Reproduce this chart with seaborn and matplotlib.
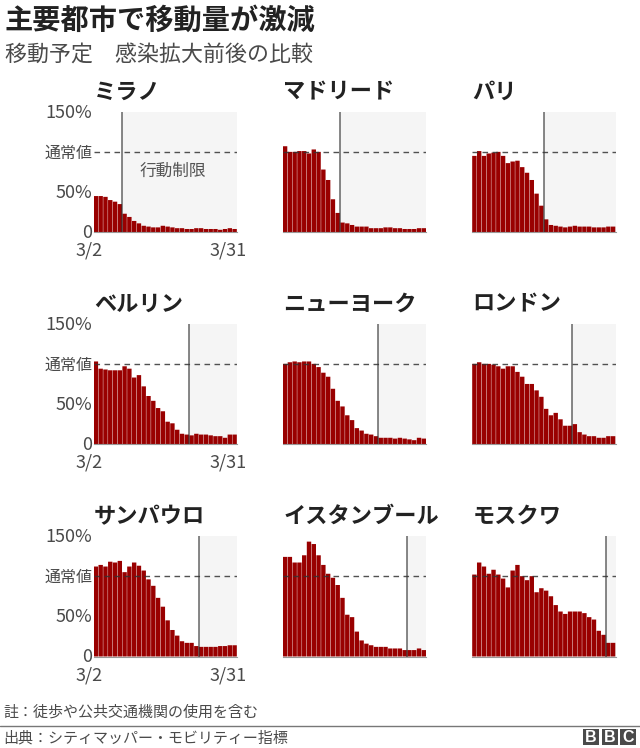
import matplotlib
matplotlib.use("Agg")
import matplotlib.pyplot as plt
import matplotlib.transforms as mtrans
from matplotlib.patches import Rectangle
from matplotlib.lines import Line2D
import seaborn as sns

sns.set_theme(style="white")
plt.rcParams["font.family"] = ["Noto Sans CJK JP", "DejaVu Sans"]

# Data (percent of normal, 3/2 to 3/31)
days = [f"3/{d}" for d in range(2, 32)]

milan = [45, 45, 44, 40, 38, 35, 23, 19, 14, 11, 8, 7, 6, 6, 8, 7, 6, 5, 5, 4, 4, 5, 5, 4, 4, 4, 3, 4, 5, 4]
madrid = [107, 100, 100, 101, 101, 98, 103, 100, 78, 65, 41, 24, 12, 11, 9, 7, 7, 7, 5, 5, 5, 6, 6, 5, 5, 4, 4, 4, 5, 5]
paris = [95, 101, 95, 98, 99, 100, 95, 86, 88, 89, 81, 74, 65, 48, 33, 16, 9, 8, 7, 6, 7, 8, 7, 7, 7, 6, 6, 6, 7, 7]
berlin = [103, 94, 93, 92, 92, 92, 97, 94, 83, 86, 72, 60, 54, 45, 41, 28, 26, 18, 13, 12, 11, 13, 12, 12, 11, 10, 10, 8, 12, 12]
new_york = [100, 102, 103, 102, 103, 103, 100, 96, 89, 84, 69, 54, 47, 36, 30, 20, 17, 13, 12, 10, 8, 8, 8, 7, 8, 7, 6, 5, 8, 7]
london = [100, 102, 100, 100, 99, 97, 94, 97, 97, 90, 84, 75, 75, 67, 59, 44, 36, 39, 31, 23, 23, 25, 15, 12, 10, 10, 8, 8, 10, 10]
sao_paulo = [112, 114, 112, 118, 117, 119, 105, 112, 117, 113, 107, 96, 88, 73, 62, 45, 33, 26, 19, 17, 17, 13, 12, 12, 12, 12, 13, 13, 14, 14]
istanbul = [124, 124, 117, 117, 126, 143, 140, 126, 114, 103, 98, 89, 73, 52, 49, 31, 20, 16, 14, 12, 12, 12, 10, 10, 10, 8, 8, 8, 10, 8]
moscow = [102, 117, 112, 103, 108, 102, 97, 86, 107, 114, 100, 95, 100, 80, 85, 82, 75, 64, 56, 53, 56, 56, 56, 54, 49, 46, 32, 27, 17, 17]

cities = ["ミラノ", "マドリード", "パリ", "ベルリン", "ニューヨーク", "ロンドン", "サンパウロ", "イスタンブール", "モスクワ"]
series = [milan, madrid, paris, berlin, new_york, london, sao_paulo, istanbul, moscow]
# number of days before the restrictions start
days_before = [6, 12, 15, 20, 20, 21, 22, 26, 28]

y_ticks = [0, 50, 100, 150]
y_labels = ["0", "50%", "通常値", "150%"]

W, H = 640, 748
col_left = [93.5, 282.7, 472]
row_top = [111.7, 323.7, 536]
panel_w, panel_h = 143.5, 120.5

RED = "#990000"
TEXT = "#4a4a4a"

fig = plt.figure(figsize=(W / 100, H / 100), dpi=100, facecolor="white")


def fig_text(x, y, s, **kw):
    kw.setdefault("va", "center")
    kw.setdefault("ha", "left")
    fig.text(x / W, 1 - y / H, s, **kw)


for i, (city, values, n) in enumerate(zip(cities, series, days_before)):
    row, col = divmod(i, 3)
    left, top = col_left[col], row_top[row]
    ax = fig.add_axes([left / W, 1 - (top + panel_h) / H, panel_w / W, panel_h / H])

    sns.barplot(x=days, y=values, color=RED, saturation=1, width=0.92, linewidth=0, ax=ax, zorder=2)
    # no pixel snapping, so the gaps stay thin and even
    for bar in ax.patches:
        bar.set_snap(False)

    ax.set_xlim(-0.5, 29.5)
    ax.set_ylim(0, 150)
    ax.axvspan(n - 0.5, 29.5, color="#f5f5f5", lw=0, zorder=1)
    ax.axvline(n - 0.5, color="#333333", lw=1.1, alpha=0.75, zorder=4)
    ax.axhline(100, color="#333333", lw=1, dashes=(4, 3.2), alpha=0.85, zorder=5)

    ax.set_xlabel("")
    ax.set_ylabel("")
    ax.grid(False)
    sns.despine(ax=ax, left=True, top=True, right=True)
    ax.spines["bottom"].set_color("#999999")
    ax.spines["bottom"].set_linewidth(0.8)
    ax.tick_params(length=0)

    if col == 0:
        ax.set_yticks(y_ticks, y_labels, color=TEXT, fontsize=13)
        ax.tick_params(axis="y", pad=1)
        for label in ax.get_yticklabels():
            label.set_fontsize(11.5 if label.get_text() == "通常値" else 13)
            label.set_transform(label.get_transform()
                                + mtrans.ScaledTranslation(0, 1 / 100, fig.dpi_scale_trans))
        ax.set_xticks([0, 29], [days[0], days[-1]], color=TEXT, fontsize=13)
        ax.tick_params(axis="x", pad=7)
        shift = mtrans.ScaledTranslation(-7 / 100, 0, fig.dpi_scale_trans)
        for label in ax.get_xticklabels():
            label.set_transform(label.get_transform() + shift)
    else:
        ax.set_yticks([])
        ax.set_xticks([])

    fig_text(left + 0.5, top - 19.5, city, fontsize=16, fontweight="bold", color="#222222")

    if i == 0:
        ax.text(16.1, 76, "行動制限", fontsize=12, color="#555555", ha="center", va="center", zorder=6)

# Header
fig_text(5, 21, "主要都市で移動量が激減", fontsize=20.3, fontweight="bold", color="#222222")
fig_text(5, 55, "移動予定　感染拡大前後の比較", fontsize=15.8, color=TEXT)

# Footer
fig_text(3, 712, "註：徒歩や公共交通機関の使用を含む", fontsize=10.8, color=TEXT)
fig.add_artist(Line2D([0, 1], [1 - 726 / H, 1 - 726 / H], color="#777777", lw=1))
fig_text(3, 738.5, "出典：シティマッパー・モビリティー指標", fontsize=10.8, color=TEXT)

for x0, letter in zip([583, 601.5, 620], "BBC"):
    fig.add_artist(Rectangle((x0 / W, 1 - 745 / H), 16 / W, 16 / H, transform=fig.transFigure,
                             facecolor="#4a4a4a", edgecolor="none"))
    fig.text((x0 + 8) / W, 1 - 737 / H, letter, color="white", fontsize=11.5, fontweight="bold",
             ha="center", va="center", family=["Liberation Sans", "DejaVu Sans"])

fig.savefig("out.png", dpi=100)
